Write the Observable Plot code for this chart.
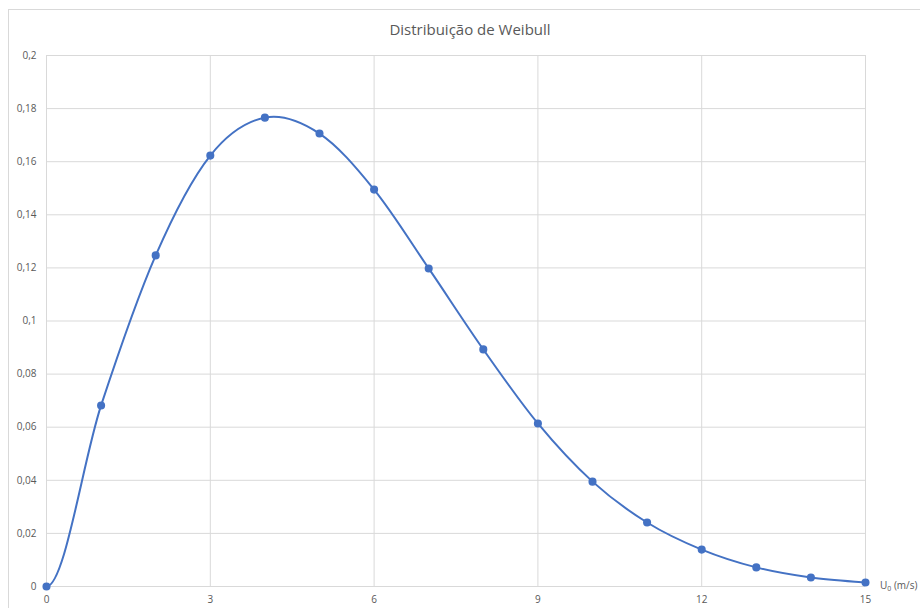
<!DOCTYPE html>
<html><head><meta charset="utf-8">
<script src="https://cdn.jsdelivr.net/npm/d3@7"></script>
<script src="https://cdn.jsdelivr.net/npm/@observablehq/plot@0.6"></script>
<style>
body{margin:0;background:#fff;font-family:"Open Sans",Calibri,"Liberation Sans",sans-serif;}
#wrap{position:relative;width:920px;height:608px;overflow:hidden;}
#frame{position:absolute;left:8px;top:9px;width:1000px;height:700px;border:1px solid #d9d9d9;box-sizing:border-box;}
#title{position:absolute;left:0;width:940px;top:19px;text-align:center;font-size:15px;color:#595959;}
#chart{position:absolute;left:0;top:0;}
#xlab{position:absolute;left:880px;top:578px;font-size:10px;color:#595959;white-space:nowrap;}
#xlab sub{font-size:7px;vertical-align:-2px;}
</style></head>
<body><div id="wrap"><div id="frame"></div><div id="title">Distribuição de Weibull</div><div id="chart"></div><div id="xlab">U<sub>0</sub> (m/s)</div></div>
<script>
const speeds = [0,1,2,3,4,5,6,7,8,9,10,11,12,13,14,15];
const probs = [0,0.0682,0.1247,0.1623,0.1766,0.1706,0.1495,0.1198,0.0893,0.0614,0.0395,0.0241,0.0139,0.0072,0.0034,0.0015];
const xTicks = [0,3,6,9,12,15];
const yTicks = [0,0.02,0.04,0.06,0.08,0.1,0.12,0.14,0.16,0.18,0.2];

const data = speeds.map((s,i)=>({x:s,y:probs[i]}));
const fmt = d => String(+d.toFixed(2)).replace(".", ",");
const grid = "#d9d9d9";

// Excel-like smoothed line: Bezier with Catmull-Rom tangents, flat start tangent
function ExcelSmooth(context){ this._context = context; }
ExcelSmooth.prototype = {
  areaStart(){ this._line = 0; }, areaEnd(){ this._line = NaN; },
  lineStart(){ this._pts = []; },
  point(x,y){ this._pts.push([+x,+y]); },
  lineEnd(){
    const p = this._pts, n = p.length, c = this._context;
    if (!n) return;
    c.moveTo(p[0][0], p[0][1]);
    if (n === 1) return;
    const T = p.map((q,i)=>{
      if (i === 0) return [(p[1][0]-p[0][0])/3, 0];
      const a = p[i-1], b = p[Math.min(i+1,n-1)];
      return [(b[0]-a[0])/6, (b[1]-a[1])/6];
    });
    for (let i=0;i<n-1;i++){
      c.bezierCurveTo(p[i][0]+T[i][0], p[i][1]+T[i][1], p[i+1][0]-T[i+1][0], p[i+1][1]-T[i+1][1], p[i+1][0], p[i+1][1]);
    }
  }
};
const excelCurve = ctx => new ExcelSmooth(ctx);

const plot = Plot.plot({
  width:920, height:608,
  marginLeft:46, marginRight:55, marginTop:55, marginBottom:22,
  style:{fontFamily:'"Open Sans",Calibri,sans-serif', fontSize:"10px", color:"#595959", background:"transparent", overflow:"visible"},
  x:{domain:[0,15], ticks:xTicks, tickFormat:d=>String(d), tickSize:0, tickPadding:9, label:null},
  y:{domain:[0,0.2], ticks:yTicks, tickFormat:fmt, tickSize:0, tickPadding:10, label:null},
  marks:[
    Plot.gridX(xTicks,{stroke:grid, strokeOpacity:1}),
    Plot.gridY(yTicks,{stroke:grid, strokeOpacity:1}),
    Plot.ruleY([0],{stroke:grid, strokeWidth:1.2}),
    Plot.line(data,{x:"x", y:"y", curve:excelCurve, stroke:"#4472C4", strokeWidth:2}),
    Plot.dot(data,{x:"x", y:"y", r:3.3, fill:"#4472C4", stroke:"#4472C4"})
  ]
});
document.getElementById("chart").appendChild(plot);
</script></body></html>
